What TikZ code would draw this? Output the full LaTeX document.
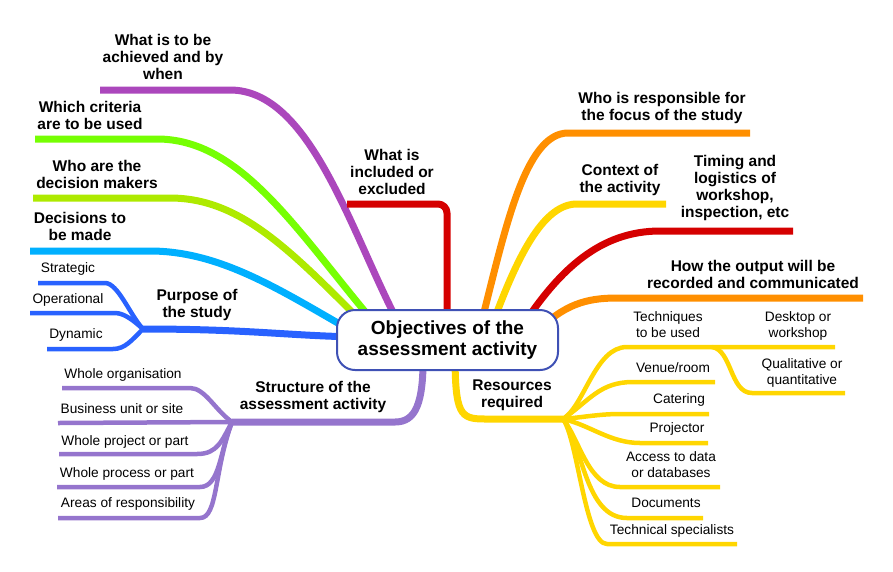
\documentclass[tikz,border=0pt]{standalone}
\usepackage{fontspec}
\setmainfont{Liberation Sans}
\usepackage{tikz}
\definecolor{cPurple}{HTML}{AB47BC}
\definecolor{cGreen}{HTML}{76FF03}
\definecolor{cLime}{HTML}{AEEA00}
\definecolor{cCyan}{HTML}{00B0FF}
\definecolor{cBlue}{HTML}{2962FF}
\definecolor{cLav}{HTML}{9575CD}
\definecolor{cRed}{HTML}{D50000}
\definecolor{cOrange}{HTML}{FF8F00}
\definecolor{cYellow}{HTML}{FFD600}
\definecolor{cNode}{HTML}{3F51B5}
\tikzset{
  mainbr/.style={line width=7pt,line join=round},
  subbr/.style={line width=4.5pt,line join=round},
  bigtxt/.style={font=\bfseries\fontsize{15.5}{17}\selectfont,align=center,inner sep=0pt},
  smalltxt/.style={font=\fontsize{13.7}{16}\selectfont,align=center,inner sep=0pt}
}

\begin{document}
\begin{tikzpicture}[x=1pt,y=1pt]
\useasboundingbox (0,0) rectangle (893,-571);
% points inside the centre node
\coordinate (oAch) at (398,-322);
\coordinate (oCrit) at (372,-320);
\coordinate (oDecm) at (362,-322);
\coordinate (oDecis) at (350,-330);
\coordinate (oPurp) at (360,-337);
\coordinate (oIncl) at (447,-325);
\coordinate (oResp) at (482,-320);
\coordinate (oCtx) at (494,-320);
\coordinate (oTim) at (525,-322);
\coordinate (oOut) at (538,-330);
\coordinate (oStr) at (423,-352);
\coordinate (oRes) at (455,-352);
% branch ends
\coordinate (achA) at (100,-90);   \coordinate (achB) at (230,-90);
\coordinate (critA) at (35,-139);  \coordinate (critB) at (157,-139);
\coordinate (decmA) at (33,-198);  \coordinate (decmB) at (170,-198);
\coordinate (decisA) at (30,-251); \coordinate (decisB) at (150,-251);
\coordinate (purF) at (143,-329);
\coordinate (stratA) at (38,-283); \coordinate (stratB) at (105,-283);
\coordinate (operA) at (30,-313);  \coordinate (operB) at (115,-313);
\coordinate (dynA) at (47,-349);   \coordinate (dynB) at (113,-349);
\coordinate (inclA) at (347,-204);
\coordinate (respA) at (750,-133); \coordinate (respB) at (568,-133);
\coordinate (ctxA) at (666,-204);  \coordinate (ctxB) at (577,-204);
\coordinate (timA) at (793,-231);  \coordinate (timB) at (660,-231);
\coordinate (outA) at (863,-298);  \coordinate (outB) at (617,-298);
\coordinate (strB) at (395,-422);  \coordinate (strF) at (232,-422);
\coordinate (orgA) at (62,-388);   \coordinate (orgB) at (190,-388);
\coordinate (busA) at (58,-423);
\coordinate (projA) at (59,-454);  \coordinate (projB) at (197,-454);
\coordinate (procA) at (57,-487);  \coordinate (procB) at (200,-487);
\coordinate (areaA) at (58,-518);  \coordinate (areaB) at (200,-518);
\coordinate (resB) at (485,-419);  \coordinate (resF) at (563,-419);
\coordinate (techA) at (835,-347); \coordinate (techB) at (627,-347);
\coordinate (qualS) at (712,-347);
\coordinate (qualA) at (845,-393); \coordinate (qualB) at (752,-393);
\coordinate (venA) at (715,-382);  \coordinate (venB) at (633,-382);
\coordinate (catA) at (709,-414);  \coordinate (catB) at (620,-414);
\coordinate (proA) at (708,-443);  \coordinate (proB) at (640,-443);
\coordinate (accA) at (720,-487);  \coordinate (accB) at (620,-487);
\coordinate (docA) at (703,-518);  \coordinate (docB) at (627,-518);
\coordinate (tecA) at (737,-544);  \coordinate (tecB) at (607,-544);

% left branches
\draw [mainbr,cPurple] (oAch) .. controls (350,-230) and (310,-90) .. (achB) -- (achA);
\draw [mainbr,cGreen] (oCrit) .. controls (295,-228) and (240,-139) .. (critB) -- (critA);
\draw [mainbr,cLime] (oDecm) .. controls (290,-250) and (240,-198) .. (decmB) -- (decmA);
\draw [mainbr,cCyan] (oDecis) .. controls (280,-290) and (220,-251) .. (decisB) -- (decisA);
\draw [mainbr,cBlue] (oPurp) .. controls (290,-336) and (250,-329) .. (purF);
\draw [subbr,cBlue] (purF) .. controls (130,-315) and (118,-283) .. (stratB) -- (stratA);
\draw [subbr,cBlue] (purF) .. controls (135,-322) and (125,-313) .. (operB) -- (operA);
\draw [subbr,cBlue] (purF) .. controls (132,-340) and (125,-349) .. (dynB) -- (dynA);
\draw [mainbr,cRed,rounded corners=9pt] (inclA) -| (oIncl);
% right branches
\draw [mainbr,cOrange] (oResp) .. controls (505,-230) and (525,-133) .. (respB) -- (respA);
\draw [mainbr,cYellow] (oCtx) .. controls (520,-250) and (545,-204) .. (ctxB) -- (ctxA);
\draw [mainbr,cRed] (oTim) .. controls (560,-270) and (600,-231) .. (timB) -- (timA);
\draw [mainbr,cOrange] (oOut) .. controls (565,-305) and (585,-298) .. (outB) -- (outA);
% structure
\draw [mainbr,cLav] (oStr) .. controls (424,-405) and (415,-422) .. (strB) -- (strF);
\draw [subbr,cLav] (strF) .. controls (215,-410) and (205,-388) .. (orgB) -- (orgA);
\draw [subbr,cLav] (strF) -- (busA);
\draw [subbr,cLav] (strF) .. controls (222,-440) and (218,-454) .. (projB) -- (projA);
\draw [subbr,cLav] (strF) .. controls (220,-450) and (220,-487) .. (procB) -- (procA);
\draw [subbr,cLav] (strF) .. controls (214,-470) and (218,-518) .. (areaB) -- (areaA);
% resources
\draw [mainbr,cYellow] (oRes) .. controls (455,-415) and (460,-419) .. (resB) -- (resF);
\draw [subbr,cYellow] (resF) .. controls (585,-405) and (595,-347) .. (techB) -- (techA);
\draw [subbr,cYellow] (qualS) .. controls (732,-350) and (730,-393) .. (qualB) -- (qualA);
\draw [subbr,cYellow] (resF) .. controls (590,-400) and (600,-382) .. (venB) -- (venA);
\draw [subbr,cYellow] (resF) .. controls (585,-417) and (600,-414) .. (catB) -- (catA);
\draw [subbr,cYellow] (resF) .. controls (590,-425) and (610,-443) .. (proB) -- (proA);
\draw [subbr,cYellow] (resF) .. controls (580,-440) and (588,-487) .. (accB) -- (accA);
\draw [subbr,cYellow] (resF) .. controls (583,-445) and (585,-518) .. (docB) -- (docA);
\draw [subbr,cYellow] (resF) .. controls (578,-440) and (585,-544) .. (tecB) -- (tecA);

\node (obj) at (447.5,-340) [draw=cNode,line width=2pt,fill=white,rounded corners=18pt,minimum width=221pt,minimum height=60pt,font=\bfseries\fontsize{19}{21}\selectfont,align=center] {Objectives of the\\assessment activity};

% labels
\node (ach) at (163,-57) [bigtxt] {What is to be\\achieved and by\\when};
\node (crit) at (90,-115) [bigtxt] {Which criteria\\are to be used};
\node (decm) at (97,-174) [bigtxt] {Who are the\\decision makers};
\node (decis) at (80,-226) [bigtxt] {Decisions to\\be made};
\node (purp) at (197,-305) [bigtxt] {Purpose of\\the study};
\node (incl) at (392,-172) [bigtxt] {What is\\included or\\excluded};
\node (resp) at (662,-108) [bigtxt] {Who is responsible for\\the focus of the study};
\node (ctx) at (620,-180) [bigtxt] {Context of\\the activity};
\node (tim) at (735,-188) [bigtxt] {Timing and\\logistics of\\workshop,\\inspection, etc};
\node (out) at (753,-274) [bigtxt] {How the output will be\\recorded and communicated};
\node (str) at (313,-397) [bigtxt] {Structure of the\\assessment activity};
\node (res) at (512,-395) [bigtxt] {Resources\\required};

\node (strat) at (68,-269) [smalltxt] {Strategic};
\node (oper) at (68,-300) [smalltxt] {Operational};
\node (dyn) at (76,-335) [smalltxt] {Dynamic};
\node (org) at (123,-375) [smalltxt] {Whole organisation};
\node (bus) at (122,-409) [smalltxt] {Business unit or site};
\node (proj) at (125,-442) [smalltxt] {Whole project or part};
\node (proc) at (127,-474) [smalltxt] {Whole process or part};
\node (area) at (128,-504) [smalltxt] {Areas of responsibility};
\node (tech) at (668,-325) [smalltxt] {Techniques\\to be used};
\node (desk) at (798,-326) [smalltxt] {Desktop or\\workshop};
\node (qual) at (802,-373) [smalltxt] {Qualitative or\\quantitative};
\node (ven) at (673,-368) [smalltxt] {Venue/room};
\node (cat) at (679,-400) [smalltxt] {Catering};
\node (pro) at (677,-429) [smalltxt] {Projector};
\node (acc) at (671,-465) [smalltxt] {Access to data\\or databases};
\node (doc) at (666,-503) [smalltxt] {Documents};
\node (tec) at (672,-531) [smalltxt] {Technical specialists};
\end{tikzpicture}
\end{document}
